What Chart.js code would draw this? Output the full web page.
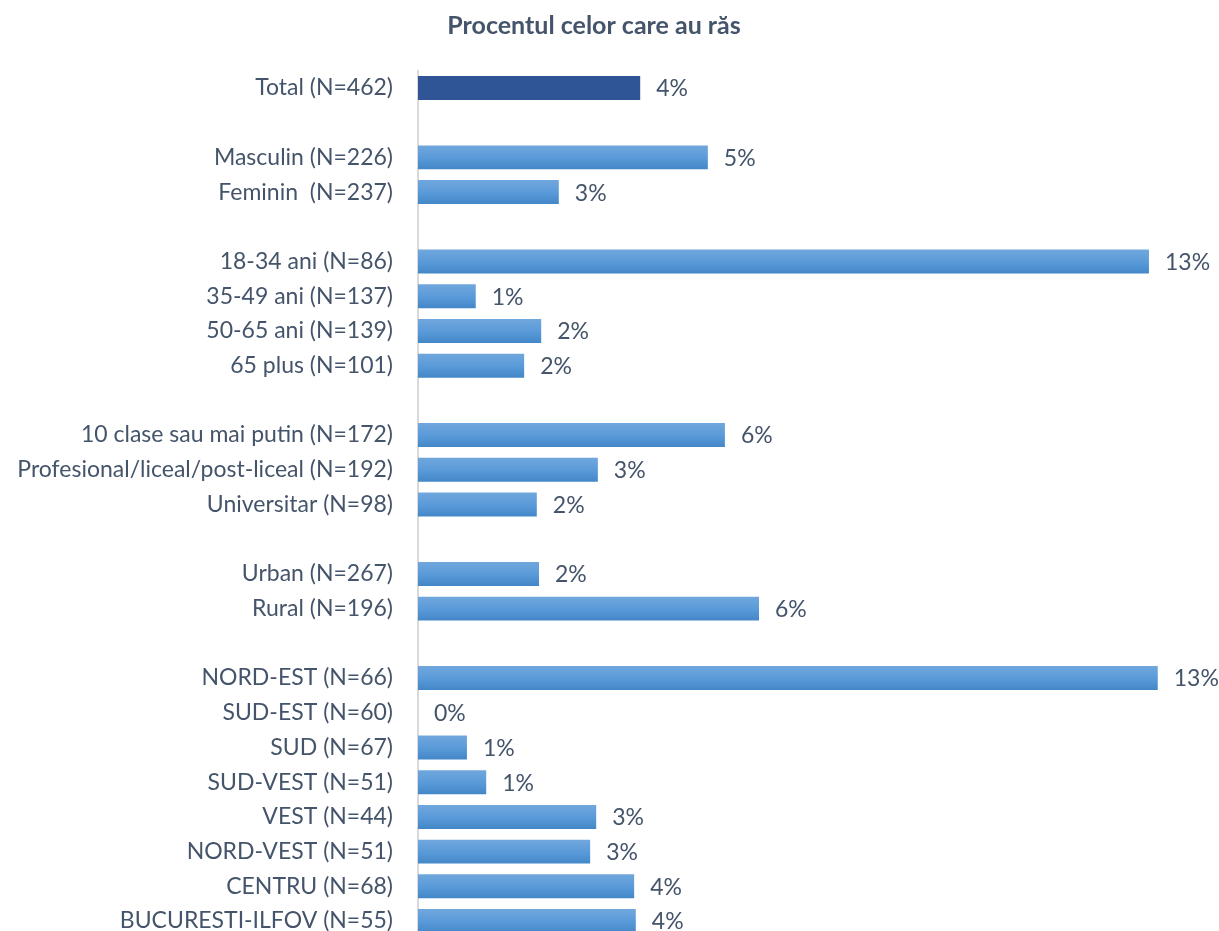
<!DOCTYPE html>
<html>
<head>
<meta charset="utf-8">
<script src="https://cdn.jsdelivr.net/npm/chart.js@4"></script>
<style>
  html, body { margin: 0; padding: 0; background: #fff; overflow: hidden; }
  #cutie { position: relative; width: 1219px; height: 940px; }
</style>
</head>
<body>
<div id="cutie"><canvas id="grafico"></canvas></div>
<script>
// datos (procente), '' = rand gol intre grupuri
const categorii = [
  'Total (N=462)', '',
  'Masculin (N=226)', 'Feminin  (N=237)', '',
  '18-34 ani (N=86)', '35-49 ani (N=137)', '50-65 ani (N=139)', '65 plus (N=101)', '',
  '10 clase sau mai putin (N=172)', 'Profesional/liceal/post-liceal (N=192)', 'Universitar (N=98)', '',
  'Urban (N=267)', 'Rural (N=196)', '',
  'NORD-EST (N=66)', 'SUD-EST (N=60)', 'SUD (N=67)', 'SUD-VEST (N=51)', 'VEST (N=44)',
  'NORD-VEST (N=51)', 'CENTRU (N=68)', 'BUCURESTI-ILFOV (N=55)'
];
const valori = [
  4.04, null,
  5.27, 2.56, null,
  13.29, 1.05, 2.24, 1.93, null,
  5.58, 3.27, 2.16, null,
  2.2, 6.2, null,
  13.45, 0, 0.89, 1.24, 3.24,
  3.13, 3.93, 3.96
];
const titlu = 'Procentul celor care au răs';

var colorTotal = '#2f5597';
var colorSus = '#70a7dd';   // partea de sus a barei
var colorJos = '#4387c8';   // partea de jos
var colorText = '#44546a';

// culoare cu gradient pentru fiecare bara
function culoareBara(ctx) {
  if (ctx.dataIndex === 0) return colorTotal;
  const chart = ctx.chart;
  const y = chart.scales.y;
  if (!chart.chartArea || !y) return colorJos;
  const centru = y.getPixelForValue(ctx.dataIndex);
  const jum = 12;
  const g = chart.ctx.createLinearGradient(0, centru - jum, 0, centru + jum);
  g.addColorStop(0, colorSus);
  g.addColorStop(0.5, '#5b9bd9');
  g.addColorStop(1, colorJos);
  return g;
}

// etichete cu procente la capatul barelor
const eticheteValori = {
  id: 'eticheteValori',
  afterDatasetsDraw(chart) {
    const c = chart.ctx;
    const meta = chart.getDatasetMeta(0);
    c.save();
    c.font = '23px Lato';
    c.fillStyle = colorText;
    c.textAlign = 'left';
    c.textBaseline = 'middle';
    meta.data.forEach((bar, i) => {
      const v = valori[i];
      if (v === null) return;
      c.fillText(Math.round(v) + '%', bar.x + 16, bar.y + 1);
    });
    c.restore();
  }
};

Chart.defaults.font.family = 'Lato';
Chart.defaults.color = colorText;

new Chart(document.getElementById('grafico').getContext('2d'), {
  type: 'bar',
  data: {
    labels: categorii,
    datasets: [{
      data: valori,
      backgroundColor: culoareBara,
      categoryPercentage: 1,
      barPercentage: 0.69
    }]
  },
  options: {
    indexAxis: 'y',
    responsive: true,
    maintainAspectRatio: false,
    animation: false,
    layout: { padding: { left: 0, right: 31, top: 0, bottom: 1.6 } },
    plugins: {
      legend: { display: false },
      tooltip: { enabled: false },
      title: {
        display: true,
        text: titlu,
        color: colorText,
        font: { size: 25, weight: 'bold' },
        padding: { top: 10.5, bottom: 30.1 }
      }
    },
    scales: {
      x: { display: false, min: 0, max: 14 },
      y: {
        afterFit(scale) {
          scale.width = 418;
          // fara spatiu in plus sus/jos pentru etichete
          scale.paddingTop = 0;
          scale.paddingBottom = 0;
        },
        grid: { display: false, drawTicks: false },
        border: { display: true, color: '#d9d9d9', width: 2 },
        ticks: { padding: 25, color: colorText, font: { size: 23 }, autoSkip: false }
      }
    }
  },
  plugins: [eticheteValori]
});
</script>
</body>
</html>
